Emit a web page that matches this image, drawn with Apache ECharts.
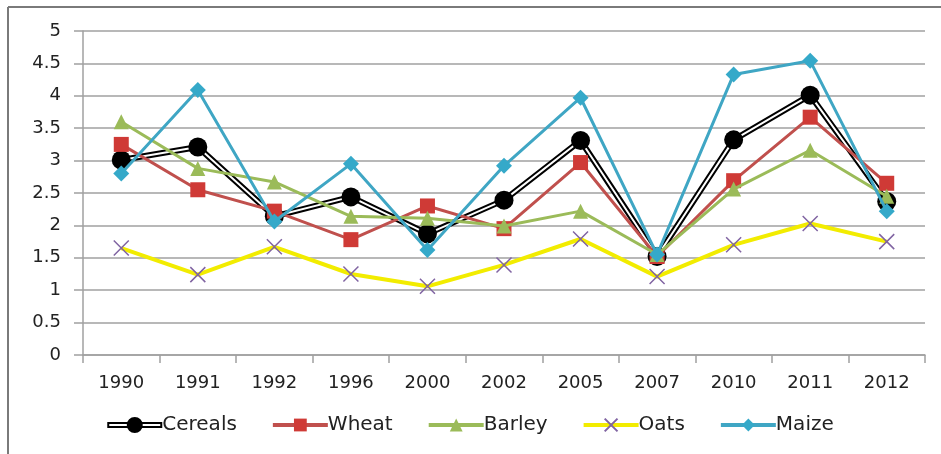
<!DOCTYPE html>
<html>
<head>
<meta charset="utf-8">
<script src="https://cdn.jsdelivr.net/npm/echarts@6/dist/echarts.min.js"></script>
<style>
  * { margin: 0; padding: 0; }
  body { background: #fff; }
</style>
</head>
<body>
<div id="chart" style="width: 941px;height: 454px;"></div>
<script type="text/javascript">
  // data
  const years = ['1990', '1991', '1992', '1996', '2000', '2002', '2005', '2007', '2010', '2011', '2012']
  const cereals = [3.01, 3.21, 2.14, 2.44, 1.87, 2.39, 3.31, 1.52, 3.32, 4.01, 2.37]
  const wheat = [3.25, 2.55, 2.22, 1.78, 2.3, 1.95, 2.97, 1.52, 2.69, 3.67, 2.65]
  const barley = [3.6, 2.88, 2.67, 2.14, 2.11, 1.99, 2.22, 1.55, 2.56, 3.16, 2.45]
  const oats = [1.65, 1.24, 1.67, 1.25, 1.06, 1.39, 1.79, 1.21, 1.7, 2.03, 1.75]
  const maize = [2.8, 4.09, 2.06, 2.95, 1.62, 2.92, 3.97, 1.55, 4.33, 4.54, 2.22]

  const labelFont = 'DejaVu Sans'
  const gridGrey = '#a0a0a0'
  // legend icon for cereals: hollow double line with a black dot
  const cerealsIcon = 'path://M0,5L55,5L55,11L0,11Z M2,7L2,9L53,9L53,7Z M19.5,8A8,8 0 1,1 35.5,8A8,8 0 1,1 19.5,8Z'

  let myChart = echarts.init(document.getElementById('chart'))
  myChart.setOption({
    backgroundColor: '#fff',
    animation: false,
    // frame of the picture: top and left edges only
    graphic: [
      {type: 'line', shape: {x1: 8, y1: 7, x2: 941, y2: 7}, style: {stroke: '#7a7a7a', lineWidth: 2}},
      {type: 'line', shape: {x1: 8, y1: 7, x2: 8, y2: 454}, style: {stroke: '#7a7a7a', lineWidth: 2}}
    ],
    grid: {left: 83, right: 16, top: 31, bottom: 99},
    legend: {
      data: [
        {name: 'Cereals', icon: cerealsIcon},
        'Wheat', 'Barley', 'Oats', 'Maize'
      ],
      left: 'center',
      top: 410,
      itemWidth: 55,
      itemHeight: 16,
      itemGap: 34,
      lineStyle: {width: 4},
      textStyle: {fontFamily: labelFont, fontSize: 20, color: '#222', padding: [0, 0, 0, -5]}
    },
    xAxis: {
      type: 'category',
      data: years,
      boundaryGap: true,
      axisLine: {lineStyle: {color: gridGrey, width: 1.5}},
      axisTick: {show: true, length: 8, lineStyle: {color: gridGrey, width: 1.5}},
      axisLabel: {fontFamily: labelFont, fontSize: 18, color: '#222', margin: 19}
    },
    yAxis: {
      type: 'value',
      min: 0,
      max: 5,
      interval: 0.5,
      axisLine: {show: true, lineStyle: {color: gridGrey, width: 1.5}},
      axisTick: {show: true, length: 9, lineStyle: {color: gridGrey, width: 1.5}},
      splitLine: {lineStyle: {color: gridGrey, width: 1.5}},
      axisLabel: {fontFamily: labelFont, fontSize: 18, color: '#222', margin: 22}
    },
    series: [
      // cereals: black outer line, white inner line, then the circles on top
      {
        name: 'Cereals', type: 'line', data: cereals,
        symbol: 'circle', symbolSize: 16, showSymbol: false,
        itemStyle: {color: '#000'},
        lineStyle: {color: '#000', width: 6},
        z: 2
      },
      {
        name: 'Cereals', type: 'line', data: cereals,
        symbol: 'none',
        lineStyle: {color: '#fff', width: 2},
        z: 2
      },
      {
        name: 'Cereals', type: 'line', data: cereals,
        symbol: 'circle', symbolSize: 19,
        itemStyle: {color: '#000'},
        lineStyle: {width: 0, opacity: 0},
        z: 3
      },
      {
        name: 'Wheat', type: 'line', data: wheat,
        symbol: 'rect', symbolSize: 15,
        itemStyle: {color: '#cf3a36'},
        lineStyle: {color: '#c0504d', width: 3},
        z: 4
      },
      {
        name: 'Barley', type: 'line', data: barley,
        symbol: 'triangle', symbolSize: 15,
        itemStyle: {color: '#9bbb59'},
        lineStyle: {color: '#9bbb59', width: 3},
        z: 5
      },
      {
        name: 'Oats', type: 'line', data: oats,
        symbol: 'path://M0,0L10,10M0,10L10,0', symbolSize: 15,
        itemStyle: {color: 'none', borderColor: '#8064a2', borderWidth: 1.5},
        lineStyle: {color: '#f2ec00', width: 4},
        z: 6
      },
      {
        name: 'Maize', type: 'line', data: maize,
        symbol: 'diamond', symbolSize: 16,
        itemStyle: {color: '#35a9c9'},
        lineStyle: {color: '#3fa6c4', width: 3},
        z: 7
      }
    ]
  })
</script>
</body>
</html>
